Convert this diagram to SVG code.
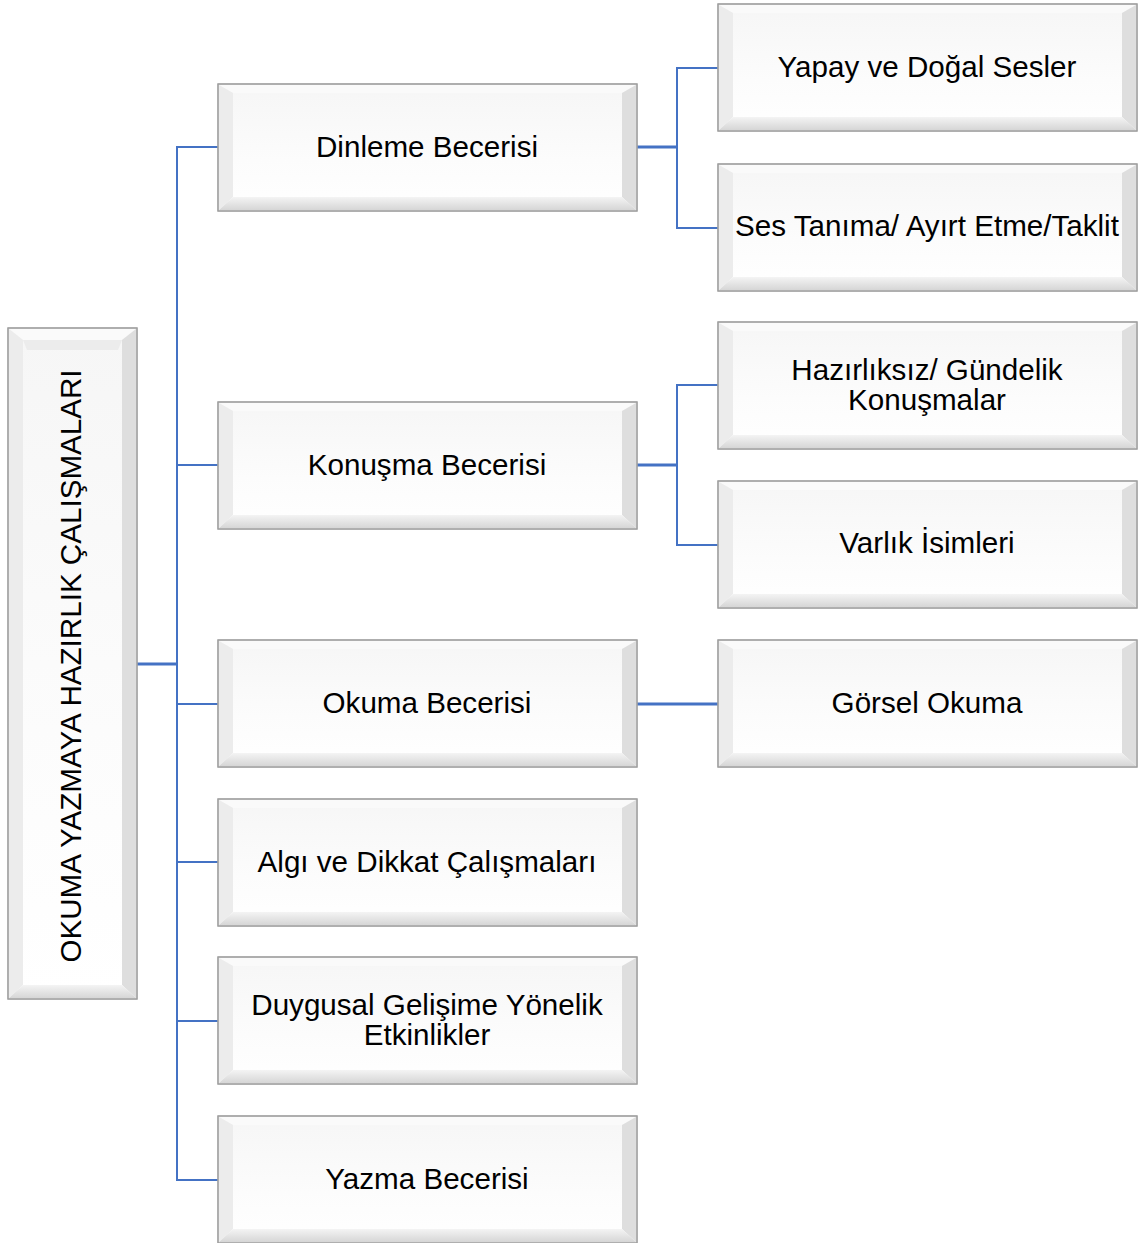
<svg xmlns="http://www.w3.org/2000/svg" xmlns:xlink="http://www.w3.org/1999/xlink" width="1141" height="1243" viewBox="0 0 1141 1243">
<style>
.t{font-family:"Liberation Sans",Arial,sans-serif;font-size:29.6px;fill:#000;text-anchor:middle}
.c{fill:none;stroke:#4472c4;stroke-width:2}
.ct{fill:none;stroke:#4472c4;stroke-width:3}
.frame{stroke:#a0a0a0;stroke-width:1.2}
</style>
<defs>
<linearGradient id="face" x1="0" y1="0" x2="0" y2="1">
<stop offset="0" stop-color="#f6f6f6"/>
<stop offset="0.6" stop-color="#fcfcfc"/>
<stop offset="1" stop-color="#ffffff"/>
</linearGradient>
<linearGradient id="bot" x1="0" y1="0" x2="0" y2="1">
<stop offset="0" stop-color="#f4f4f4"/>
<stop offset="1" stop-color="#d6d6d6"/>
</linearGradient>
<g id="box">
<rect x="0" y="0" width="419" height="127" fill="url(#face)" class="frame"/>
<polygon points="1,1 418,1 404,9 15,9" fill="#fafafa"/>
<polygon points="1,1 15,9 15,113 1,126" fill="#ececec"/>
<polygon points="418,1 404,9 404,113 418,126" fill="#dedede"/>
<polygon points="1,126 15,113 404,113 418,126" fill="url(#bot)"/>
<rect x="0" y="0" width="419" height="127" fill="none" class="frame"/>
</g>
</defs>
<g id="connectors">
<line class="ct" x1="137" y1="664" x2="178" y2="664"/>
<line class="c" x1="177" y1="147" x2="177" y2="1181"/>
<line class="c" x1="176" y1="147" x2="218" y2="147"/>
<line class="c" x1="176" y1="465" x2="218" y2="465"/>
<line class="c" x1="176" y1="704" x2="218" y2="704"/>
<line class="c" x1="176" y1="862" x2="218" y2="862"/>
<line class="c" x1="176" y1="1021" x2="218" y2="1021"/>
<line class="c" x1="176" y1="1180" x2="218" y2="1180"/>
<line class="ct" x1="637" y1="147" x2="678" y2="147"/>
<line class="c" x1="677" y1="68" x2="677" y2="229"/>
<line class="c" x1="676" y1="68" x2="718" y2="68"/>
<line class="c" x1="676" y1="228" x2="718" y2="228"/>
<line class="ct" x1="637" y1="465" x2="678" y2="465"/>
<line class="c" x1="677" y1="385" x2="677" y2="546"/>
<line class="c" x1="676" y1="385" x2="718" y2="385"/>
<line class="c" x1="676" y1="545" x2="718" y2="545"/>
<line class="ct" x1="637" y1="704" x2="718" y2="704"/>
</g>
<g id="root">
<rect x="8" y="328" width="129" height="671" fill="url(#face)" class="frame"/>
<polygon points="9,329 136,329 122,340 23,340" fill="#fafafa"/>
<polygon points="23,340 122,340 118,350 27,350" fill="#ececec"/>
<polygon points="9,329 23,340 23,985 9,998" fill="#ececec"/>
<polygon points="136,329 122,340 122,985 136,998" fill="#dedede"/>
<polygon points="9,998 23,985 122,985 136,998" fill="url(#bot)"/>
<rect x="8" y="328" width="129" height="671" fill="none" class="frame"/>
<text class="t" transform="translate(81,666) rotate(-90)">OKUMA YAZMAYA HAZIRLIK ÇALIŞMALARI</text>
</g>
<g id="dinleme"><use xlink:href="#box" x="218" y="84"/><text class="t" x="427" y="157">Dinleme Becerisi</text></g>
<g id="konusma"><use xlink:href="#box" x="218" y="402"/><text class="t" x="427" y="475">Konuşma Becerisi</text></g>
<g id="okuma"><use xlink:href="#box" x="218" y="640"/><text class="t" x="427" y="713">Okuma Becerisi</text></g>
<g id="algi"><use xlink:href="#box" x="218" y="799"/><text class="t" x="427" y="872">Algı ve Dikkat Çalışmaları</text></g>
<g id="duygusal"><use xlink:href="#box" x="218" y="957"/><text class="t" x="427" y="1015">Duygusal Gelişime Yönelik</text><text class="t" x="427" y="1045">Etkinlikler</text></g>
<g id="yazma"><use xlink:href="#box" x="218" y="1116"/><text class="t" x="427" y="1189">Yazma Becerisi</text></g>
<g id="yapay"><use xlink:href="#box" x="718" y="4"/><text class="t" x="927" y="77">Yapay ve Doğal Sesler</text></g>
<g id="ses"><use xlink:href="#box" x="718" y="164"/><text class="t" x="927" y="236">Ses Tanıma/ Ayırt Etme/Taklit</text></g>
<g id="hazirliksiz"><use xlink:href="#box" x="718" y="322"/><text class="t" x="927" y="380">Hazırlıksız/ Gündelik</text><text class="t" x="927" y="410">Konuşmalar</text></g>
<g id="varlik"><use xlink:href="#box" x="718" y="481"/><text class="t" x="927" y="553">Varlık İsimleri</text></g>
<g id="gorsel"><use xlink:href="#box" x="718" y="640"/><text class="t" x="927" y="713">Görsel Okuma</text></g>
</svg>
